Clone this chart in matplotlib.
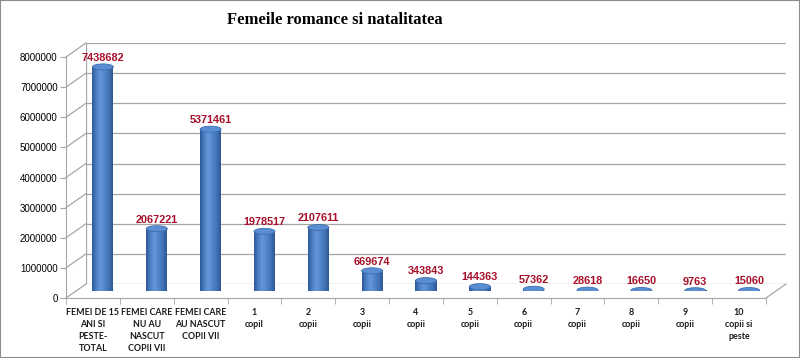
import numpy as np
import matplotlib
matplotlib.use("Agg")
import matplotlib.pyplot as plt
from matplotlib.colors import LinearSegmentedColormap
from matplotlib.patches import Ellipse, Rectangle
from matplotlib.lines import Line2D

# data
categories = ["FEMEI DE 15\nANI SI\nPESTE-\nTOTAL", "FEMEI CARE\nNU AU\nNASCUT\nCOPII VII",
              "FEMEI CARE\nAU NASCUT\nCOPII VII", "1\ncopil", "2\ncopii", "3\ncopii",
              "4\ncopii", "5\ncopii", "6\ncopii", "7\ncopii", "8\ncopii", "9\ncopii",
              "10\ncopii si\npeste"]
values = [7438682, 2067221, 5371461, 1978517, 2107611, 669674, 343843,
          144363, 57362, 28618, 16650, 9763, 15060]
yticks = np.arange(0, 8000001, 1000000)

W, H = 800, 358
fig = plt.figure(figsize=(W / 100, H / 100), dpi=100)
fig.patch.set_facecolor("white")
fig.add_artist(Rectangle((0, 0), 1, 1, transform=fig.transFigure, fill=False,
                         edgecolor="#8c8c8c", lw=1.5))

def make_axes(dx, dy):
    a = fig.add_axes([(66 + dx) / W, (358 - 298 + dy) / H, 700 / W, 241 / H])
    a.set_xlim(-0.5, len(values) - 0.5)
    a.set_ylim(0, 8000000)
    a.patch.set_alpha(0)
    return a

grid_col = "#a6a6a6"
back = make_axes(20, 14)
mid = make_axes(10, 7)
front = make_axes(0, 0)

# back wall gridlines
for y in yticks:
    back.axhline(y, color=grid_col, lw=0.9)
back.axvline(-0.5, color=grid_col, lw=0.9)
back.axis("off")

# side wall / floor diagonals
def diag(x, y):
    p1 = fig.transFigure.inverted().transform(front.transData.transform((x, y)))
    p2 = fig.transFigure.inverted().transform(back.transData.transform((x, y)))
    fig.add_artist(Line2D([p1[0], p2[0]], [p1[1], p2[1]], transform=fig.transFigure,
                          color=grid_col, lw=0.9, zorder=0))

for y in yticks:
    diag(-0.5, y)
diag(len(values) - 0.5, 0)

# bars as shaded cylinders
cmap = LinearSegmentedColormap.from_list(
    "cyl", ["#2d5896", "#4c80c4", "#6696d8", "#5186c8", "#4274b6", "#2e5894"])
grad = np.linspace(0, 1, 64).reshape(1, -1)
bw = 0.39
eh = 200000
for i, v in enumerate(values):
    mid.add_patch(Ellipse((i, 0), bw, eh, facecolor="#3f70b2", edgecolor="none", zorder=2))
    mid.imshow(grad, extent=[i - bw / 2, i + bw / 2, 0, v], aspect="auto",
               cmap=cmap, zorder=3, interpolation="bilinear")
    mid.add_patch(Ellipse((i, v), bw, eh, facecolor="#5a8ed2", edgecolor="#3e6cae",
                          lw=0.6, zorder=4))
    mid.annotate(str(v), (i, v), xytext=(0, 3), textcoords="offset points",
                 ha="center", va="bottom", fontsize=7.8, fontweight="bold",
                 color="#a8102a", family="Liberation Sans")
mid.set_xlim(-0.5, len(values) - 0.5)
mid.set_ylim(0, 8000000)
mid.axis("off")

# front axis with labels
for s in ["top", "right"]:
    front.spines[s].set_visible(False)
front.spines["left"].set_color(grid_col)
front.spines["bottom"].set_color(grid_col)
front.set_yticks(yticks)
front.set_yticklabels([str(y) for y in yticks], fontsize=7, family="Liberation Sans")
front.tick_params(axis="y", length=4, color=grid_col, pad=2)
front.set_xticks(range(len(values)))
front.set_xticklabels(categories, fontsize=6.4, fontweight="bold",
                      family="Lato", linespacing=1.45, va="top", color="#1a1a1a")
front.tick_params(axis="x", length=0, pad=7)
front.set_xticks(np.arange(-0.5, len(values)), minor=True)
front.tick_params(axis="x", which="minor", length=4, color=grid_col, direction="out")

fig.text(335 / W, 1 - 20 / H, "Femeile romance si natalitatea", ha="center", va="center",
         fontsize=12, fontweight="bold", family="Liberation Serif")

fig.savefig("out.png", dpi=100)
